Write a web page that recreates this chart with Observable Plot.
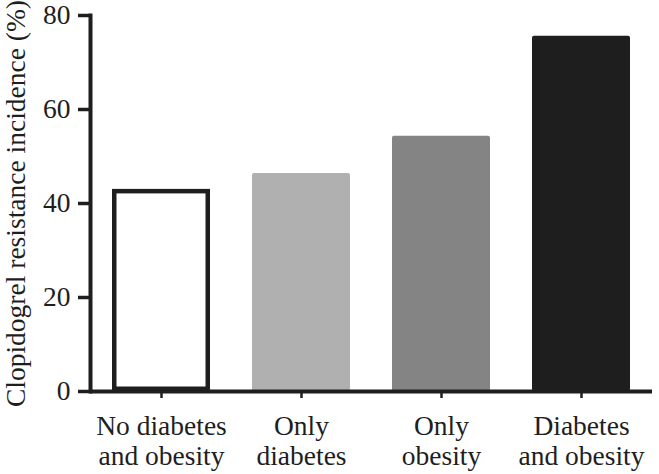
<!DOCTYPE html>
<html><head><meta charset="utf-8">
<script src="https://cdn.jsdelivr.net/npm/d3@7"></script>
<script src="https://cdn.jsdelivr.net/npm/@observablehq/plot@0.6"></script>
<style>body{margin:0;background:#fff} svg{display:block}</style>
</head><body><div id="chart"></div>
<script>
const categories = ["No diabetes\nand obesity", "Only\ndiabetes", "Only\nobesity", "Diabetes\nand obesity"];
const values = [43, 46.4, 54.3, 75.6];
const fills = ["#ffffff", "#b0b0b0", "#848484", "#1e1e1e"];
const yTicks = [0, 20, 40, 60, 80];
const yLabel = "Clopidogrel resistance incidence (%)";

const data = categories.map((c, i) => ({category: c, value: values[i], fill: fills[i]}));
const ink = "#1e1e1e";

const plot = Plot.plot({
  width: 659, height: 474,
  marginLeft: 90, marginRight: 7, marginTop: 15, marginBottom: 83,
  style: {fontFamily: "'Liberation Serif', 'Times New Roman', serif", fontSize: "27.5px", color: ink, background: "#fff"},
  x: {domain: categories, paddingInner: 0.3, paddingOuter: 0.155, label: null},
  y: {domain: [0, 80], label: null},
  color: {type: "identity"},
  marks: [
    Plot.barY(data.slice(1), {x: "category", y: "value", fill: "fill", rx: 2}),
    Plot.barY(data.slice(0, 1), {x: "category", y: "value", fill: "fill", stroke: ink, strokeWidth: 4.5, inset: 2.25}),
    Plot.axisY({ticks: yTicks, tickSize: 12, tickPadding: 8, strokeWidth: 3.5, stroke: ink,
      label: yLabel, labelAnchor: "center", labelOffset: 85, labelArrow: "none"}),
    Plot.axisX({tickSize: 7, tickPadding: 15, strokeWidth: 2.5, stroke: ink, lineHeight: 1.1, label: null}),
    Plot.ruleY([0], {stroke: ink, strokeWidth: 4}),
    Plot.frame({anchor: "left", stroke: ink, strokeWidth: 4})
  ]
});
document.getElementById("chart").appendChild(plot);
</script>
</body></html>
